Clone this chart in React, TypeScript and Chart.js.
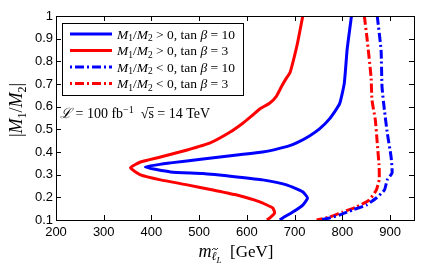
import React, { useEffect, useRef } from "react";
import { Chart, registerables } from "chart.js";
Chart.register(...registerables);

const xTicks = [200, 300, 400, 500, 600, 700, 800, 900];
const yTicks = [0.1, 0.2, 0.3, 0.4, 0.5, 0.6, 0.7, 0.8, 0.9, 1];

const blueSolidX = [819, 810, 804, 794, 773, 752, 731, 704, 685, 633, 579, 508, 440, 387, 440, 508, 579, 633, 683, 717, 727, 717, 696, 675, 669];
const blueSolidY = [1.0, 0.854, 0.704, 0.612, 0.546, 0.502, 0.471, 0.44, 0.425, 0.4, 0.387, 0.369, 0.352, 0.334, 0.312, 0.305, 0.29, 0.277, 0.255, 0.224, 0.197, 0.166, 0.135, 0.109, 0.1];

const redSolidX = [717, 706, 696, 690, 683, 673, 662, 648, 627, 610, 592, 565, 523, 475, 419, 377, 356, 377, 419, 475, 529, 579, 627, 654, 658, 648, 642];
const redSolidY = [1.0, 0.881, 0.793, 0.749, 0.727, 0.691, 0.647, 0.616, 0.59, 0.559, 0.528, 0.488, 0.44, 0.409, 0.378, 0.356, 0.33, 0.299, 0.277, 0.255, 0.232, 0.21, 0.18, 0.153, 0.131, 0.109, 0.1];

const blueDashX = [873, 881, 883, 888, 894, 902, 904, 894, 888, 871, 850, 821, 794, 773, 752];
const blueDashY = [1.0, 0.85, 0.687, 0.585, 0.484, 0.378, 0.307, 0.277, 0.232, 0.197, 0.166, 0.144, 0.122, 0.109, 0.1];

const redDashX = [846, 852, 860, 862, 869, 873, 877, 877, 871, 856, 829, 800, 773, 746];
const redDashY = [1.0, 0.894, 0.731, 0.629, 0.541, 0.44, 0.334, 0.277, 0.232, 0.188, 0.157, 0.135, 0.113, 0.1];

const legendSigns = [">", ">", "<", "<"];
const legendTanb = ["10", "3", "10", "3"];
const legendColors = ["#0000ff", "#ff0000", "#0000ff", "#ff0000"];
const legendDashed = [false, false, true, true];

const DASH = [9, 3, 2, 3];
const SERIF = "'Liberation Serif'";

type Seg = { t: string; font: string; dy?: number; over?: boolean; tilde?: boolean };

function drawSegs(ctx: CanvasRenderingContext2D, segs: Seg[], x: number, y: number, align: "left" | "center") {
  ctx.save();
  ctx.textBaseline = "alphabetic";
  ctx.textAlign = "left";
  let w = 0;
  for (const s of segs) {
    ctx.font = s.font;
    w += ctx.measureText(s.t).width;
  }
  let cx = align === "center" ? x - w / 2 : x;
  for (const s of segs) {
    ctx.font = s.font;
    const sw = ctx.measureText(s.t).width;
    const by = y + (s.dy || 0);
    ctx.fillText(s.t, cx, by);
    if (s.over) {
      ctx.beginPath();
      ctx.lineWidth = 0.8;
      ctx.strokeStyle = "#000";
      ctx.moveTo(cx - 1, y - 10.5);
      ctx.lineTo(cx + sw, y - 10.5);
      ctx.stroke();
    }
    if (s.tilde) {
      const tx = cx + sw / 2 + 1;
      const ty = by - 11;
      ctx.beginPath();
      ctx.lineWidth = 0.9;
      ctx.strokeStyle = "#000";
      ctx.moveTo(tx - 3, ty + 1);
      ctx.quadraticCurveTo(tx - 1.5, ty - 1.5, tx, ty);
      ctx.quadraticCurveTo(tx + 1.5, ty + 1.5, tx + 3, ty - 1);
      ctx.stroke();
    }
    cx += sw;
  }
  ctx.restore();
  return w;
}

const mk = (xs: number[], ys: number[]) => xs.map((x, i) => ({ x, y: ys[i] }));

const decorPlugin = {
  id: "decor",
  afterDraw(chart: any) {
    const ctx: CanvasRenderingContext2D = chart.ctx;
    const { left, right, top, bottom } = chart.chartArea;
    const xs = chart.scales.x;
    const ys = chart.scales.y;
    ctx.save();
    ctx.strokeStyle = "#000";
    ctx.lineWidth = 1;
    ctx.strokeRect(Math.round(left) + 0.5, Math.round(top) + 0.5, Math.round(right - left), Math.round(bottom - top));
    const tl = 5;
    ctx.beginPath();
    for (const v of xTicks) {
      const px = Math.round(xs.getPixelForValue(v)) + 0.5;
      ctx.moveTo(px, bottom);
      ctx.lineTo(px, bottom - tl);
      ctx.moveTo(px, top);
      ctx.lineTo(px, top + tl);
    }
    for (const v of yTicks) {
      const py = Math.round(ys.getPixelForValue(v)) + 0.5;
      ctx.moveTo(left, py);
      ctx.lineTo(left + tl, py);
      ctx.moveTo(right, py);
      ctx.lineTo(right - tl, py);
    }
    ctx.stroke();

    // legend
    const lx0 = 62, ly0 = 23, lx1 = 243, ly1 = 95;
    ctx.fillStyle = "#fff";
    ctx.fillRect(lx0, ly0, lx1 - lx0, ly1 - ly0);
    ctx.strokeStyle = "#000";
    ctx.lineWidth = 1;
    ctx.strokeRect(lx0 + 0.5, ly0 + 0.5, lx1 - lx0, ly1 - ly0);
    const rowY = [34, 50.5, 67, 83.5];
    for (let i = 0; i < 4; i++) {
      ctx.beginPath();
      ctx.strokeStyle = legendColors[i];
      ctx.lineWidth = 3;
      ctx.setLineDash(legendDashed[i] ? [2, 3, 9, 3] : []);
      ctx.moveTo(70, rowY[i]);
      ctx.lineTo(112, rowY[i]);
      ctx.stroke();
      ctx.setLineDash([]);
      ctx.fillStyle = "#000";
      const it = `italic 13.5px ${SERIF}`;
      const rm = `13.5px ${SERIF}`;
      const sub = `9.5px ${SERIF}`;
      drawSegs(ctx, [
        { t: "M", font: it },
        { t: "1", font: sub, dy: 2.5 },
        { t: "/", font: rm },
        { t: "M", font: it },
        { t: "2", font: sub, dy: 2.5 },
        { t: ` ${legendSigns[i]} 0, tan `, font: rm },
        { t: "β", font: it },
        { t: ` = ${legendTanb[i]}`, font: rm },
      ], 117, rowY[i] + 4.5, "left");
    }

    // annotation
    ctx.fillStyle = "#000";
    const a = `14px ${SERIF}`;
    drawSegs(ctx, [
      { t: "ℒ", font: `italic 14px ${SERIF}` },
      { t: " = 100 fb", font: a },
      { t: "−1", font: `10px ${SERIF}`, dy: -5 },
      { t: "  √", font: a },
      { t: "s", font: a, over: true },
      { t: " = 14 TeV", font: a },
    ], 60, 118, "left");

    // x title
    drawSegs(ctx, [
      { t: "m", font: `italic 18px ${SERIF}` },
      { t: "ℓ", font: `italic 12px ${SERIF}`, dy: 3, tilde: true },
      { t: "L", font: `italic 9px ${SERIF}`, dy: 6 },
      { t: "  [GeV]", font: `17px ${SERIF}` },
    ], 236, 257, "center");

    // y title
    ctx.save();
    ctx.translate(22, 110);
    ctx.rotate(-Math.PI / 2);
    drawSegs(ctx, [
      { t: "|", font: `18px ${SERIF}` },
      { t: "M", font: `italic 18px ${SERIF}` },
      { t: "1", font: `12px ${SERIF}`, dy: 3.5 },
      { t: "/", font: `18px ${SERIF}` },
      { t: "M", font: `italic 18px ${SERIF}` },
      { t: "2", font: `12px ${SERIF}`, dy: 3.5 },
      { t: "|", font: `18px ${SERIF}` },
    ], 0, 0, "center");
    ctx.restore();
    ctx.restore();
  },
};

export default function App() {
  const ref = useRef<HTMLCanvasElement>(null);
  useEffect(() => {
    const lineDs = (xs: number[], ys: number[], color: string, dashed: boolean) => ({
      data: mk(xs, ys),
      showLine: true,
      pointRadius: 0,
      borderColor: color,
      backgroundColor: color,
      borderWidth: 3,
      borderDash: dashed ? DASH : [],
      fill: false,
      tension: 0.15,
    });
    const chart = new Chart(ref.current as HTMLCanvasElement, {
      type: "scatter",
      data: {
        datasets: [
          lineDs(blueSolidX, blueSolidY, "#0000ff", false),
          lineDs(redSolidX, redSolidY, "#ff0000", false),
          lineDs(blueDashX, blueDashY, "#0000ff", true),
          lineDs(redDashX, redDashY, "#ff0000", true),
        ] as any,
      },
      options: {
        animation: false,
        responsive: false,
        devicePixelRatio: 1,
        layout: { padding: { left: 0, right: 11, top: 16, bottom: 0 } },
        plugins: { legend: { display: false }, tooltip: { enabled: false } },
        scales: {
          x: {
            type: "linear",
            min: 200,
            max: 950,
            grid: { display: false, drawTicks: false },
            border: { display: false },
            afterBuildTicks: (s: any) => { s.ticks = xTicks.map((v) => ({ value: v })); },
            afterFit: (s: any) => { s.height = 52; },
            ticks: {
              color: "#000",
              padding: 5,
              maxRotation: 0,
              font: { family: "'Liberation Sans'", size: 13 },
              callback: (v: any) => String(v),
            },
          },
          y: {
            type: "linear",
            min: 0.1,
            max: 1,
            grid: { display: false, drawTicks: false },
            border: { display: false },
            afterBuildTicks: (s: any) => { s.ticks = yTicks.map((v) => ({ value: v })); },
            afterFit: (s: any) => { s.width = 56; },
            ticks: {
              color: "#000",
              padding: 3,
              font: { family: "'Liberation Sans'", size: 13 },
              callback: (v: any) => String(Number(Number(v).toFixed(1))),
            },
          },
        },
      },
      plugins: [decorPlugin],
    });
    return () => chart.destroy();
  }, []);
  return (
    <div style={{ position: "fixed", left: 0, top: 0, width: 425, height: 272, background: "#fff" }}>
      <canvas ref={ref} width={425} height={272} style={{ display: "block", width: 425, height: 272 }} />
    </div>
  );
}
